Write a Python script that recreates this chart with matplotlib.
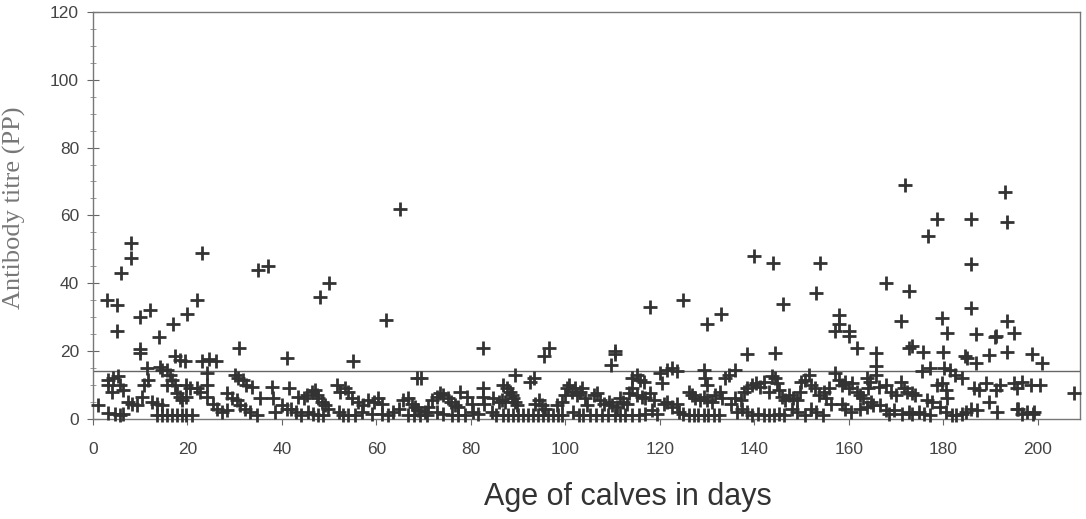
import matplotlib
matplotlib.use("Agg")
import matplotlib.pyplot as plt
from matplotlib.ticker import MultipleLocator

# age of calf (days) and antibody titre (PP)
# high values (outliers)
age_high = [3, 5, 5, 6, 8, 8, 10, 12, 10, 10, 14, 17, 20, 22, 23, 23, 24.5, 26,
            17.4, 18.4, 19.5, 31, 35, 37, 41, 48, 50, 55, 62, 65, 82.5,
            96.5, 95.5, 110.6, 110.6, 109.6, 118, 125, 130, 133, 138.5, 140,
            144, 144.3, 146, 153, 154, 157, 158, 158, 160, 160, 161.8,
            165.7, 165.7, 165.7, 168, 171, 172, 172.7, 172.7, 173.5, 175.8,
            176.7, 178.8, 179.8, 179.9, 180.9, 184.7, 185, 185.8, 185.8,
            185.8, 186.9, 186.9, 189.6, 190.9, 191.2, 193, 193.6, 193.6,
            193.6, 195, 198.9, 201]
titre_high = [35, 33.5, 26, 43, 47.5, 52, 30, 32, 19.5, 20.5, 24, 28, 31, 35,
              49, 17, 17.5, 17, 18.4, 17.4, 17, 21, 44, 45, 18, 36, 40, 17,
              29, 62, 21, 21, 18.5, 20, 19, 16, 33, 35, 28, 31, 19, 48, 46,
              19.5, 34, 37, 46, 26, 30.5, 28, 26, 24.5, 21, 19.5, 15.5, 13,
              40, 28.8, 69, 37.7, 21, 21.5, 19.6, 53.8, 59, 29.7, 19.6, 25.3,
              18.4, 17.8, 59, 45.7, 32.7, 25, 16.6, 18.7, 24, 24.5, 67, 58,
              28.8, 19.6, 25.3, 19, 16.6]

# dense band below the cut-off line
age_low = [
    1, 3.2, 3.2, 4.3, 5.4, 5.7, 6.4, 4, 3.2, 4.7, 5.7, 6.4, 7.5, 8.2, 9.3,
    10.3, 10.7, 11.7, 11.4, 12.4, 13.5, 14.6, 13.5, 14.6, 15.6, 16.7,
    14.2, 14.6, 15.6, 16.3, 16.7, 17.4, 15.6, 17.7, 18.4, 18.8, 19.8, 19.8,
    17.7, 18.8, 19.8, 20.9, 20.5, 22, 22.7, 24.1, 24.1, 24.1,
    25.5, 26.2, 27.3, 28.3, 28.3, 29.4, 30.4, 30.1, 30.8, 31.8, 32.5, 33.6,
    31.1, 32.2, 33.3, 34.7, 35.4, 37.8, 38.2, 38.6, 40, 41,
    41.4, 42, 43, 44, 43.5, 44.6, 45.3, 46.4, 47, 47.4, 47.7, 48.4, 49.1,
    49.8, 45.6, 46.6, 47.7, 48.8, 51.6, 52.3, 53.3, 54, 54.8, 52, 53, 54,
    55.5, 56.2, 57.2, 58.3, 59.4, 60.4, 61.1, 57, 59, 61.1, 62.5, 63.6, 64.7,
    65.7, 66.8, 67.5, 68.2, 68.9, 70.3, 71, 66.8, 67.9, 69.3, 70.7,
    68.5, 69.5, 71.7, 72.8, 73.5, 74.2, 75.2, 75.9, 76.6, 77.3, 77.7, 79.1,
    80.2, 72.8, 74.2, 76, 77.3, 78.7, 80.5, 81.6, 82.5, 82.5, 82.8,
    89.4, 92.6, 93.3, 86.9, 87.6, 88.3, 88.7, 89, 89.4, 89.8, 84.8, 85.9,
    86.6, 87.3, 84.4, 85.4, 86.9, 87.9, 89, 90, 91.1, 92.1, 93.1, 94.2, 95.2,
    96.3, 97.3, 98.4, 99.4, 93.6, 94.4, 95.1, 95.8, 98.2, 99.3, 100, 100.3,
    100.7, 101.4, 102.1, 102.4, 103.1, 103.5, 104.2, 104.5, 106, 106.7, 107.4,
    108.1, 109.2, 109.9, 110.9, 101.7, 102.8, 103.8, 105.2, 106.6, 107.7,
    109.1, 110.5, 111.5, 111.6, 112.3, 113, 113.4, 114.1, 115.2, 115.9,
    116.6, 114.1, 115.2, 116.2, 116.9, 118, 118.7, 112.7, 114.1, 115.5,
    116.9, 118.3, 119.4, 120.1, 120.5, 121.5, 122.5, 123.6, 120.8, 121.5,
    122.5, 123.6,
    129.3, 129.6, 129.9, 133.9, 134.6, 136, 126.1, 126.8, 127.5, 128.6,
    129.3, 130, 131, 131.7, 132.8, 133.2, 124, 125, 126.1, 127.2, 128.2,
    129.3, 130.3, 131.4, 132.5, 135, 136, 137.1, 137.8, 138.5, 139.5, 140.3,
    141.3, 142, 143.1, 143.8, 144.5, 144.8, 145.2, 145.9, 146.6, 136.4,
    137.4, 138.5, 139.5, 140.9, 142, 143.1, 144.1, 145.2, 146.2, 147.3,
    148.3, 149, 149.7, 150, 150.7, 151.7, 152.1, 152.8, 153.8, 154.8, 155.2,
    155.9, 156.2, 148, 149, 150.7, 152.1, 153.1, 154.5, 157.2, 157.9, 158.6,
    159.3, 160, 160.7, 161.8, 162.4, 163.1, 163.8, 164.1, 164.8, 165.2,
    158.6, 159.3, 160.4, 162.4, 163.8,
    175.6, 177.3, 180.1, 181.5, 182.6, 184, 164.6, 166.4, 167.8, 168.9, 170,
    171, 171.7, 172.4, 173.4, 174.1, 178.7, 179.8, 180.5, 180.9, 176.6,
    177.6, 186.5, 187.6, 189, 189.7, 191.1, 192.1, 194.9, 195.6, 196.7,
    198.5, 200.6, 207.6, 166.7, 167.8, 168.5, 169.5, 171.3, 172.7, 173.4,
    174.8, 175.9, 177.3, 179.3, 180.7, 181.8, 182.8, 183.9, 184.9, 186,
    187.1, 191.3, 195.6, 196.7, 197.8, 199.2, 195.8, 199]
titre_low = [
    4.1, 11.5, 10, 12, 12.5, 10, 8.5, 8, 1.8, 1.5, 1, 1.5, 5, 4.5, 4,
    6.5, 10, 11.5, 15, 5, 4.5, 4, 1, 1, 1, 1,
    15.4, 14.5, 14.5, 13, 11.5, 10, 10, 7.5, 6.5, 5.5, 10, 6.5,
    1, 1, 1, 1, 9, 9, 8, 13.5, 10, 6.5,
    4.5, 3, 2, 2.5, 7.5, 6, 5.5, 13, 12, 11.5, 10, 9.5,
    4, 3, 2, 1, 6, 9.5, 6, 2, 4, 3,
    9, 3, 2, 1, 6.5, 6, 7, 8, 8.5, 7, 6, 5, 4,
    3, 2, 1.3, 1, 1, 10, 8, 9, 8, 6, 2, 1, 1,
    1, 5, 4, 5.5, 5, 6, 4.5, 2, 1.5, 1.5, 1, 2, 3,
    5.5, 6, 4.5, 3.5, 2.5, 2, 3.5, 1, 1, 1, 1,
    12, 12, 5.5, 6.5, 7.5, 7, 6, 5, 4, 3.5, 8, 6.5,
    4.5, 2, 1.5, 1, 1, 1, 2, 1.5, 9, 6.5, 4.5,
    13, 11, 12, 10, 9, 8, 7, 6, 5, 4, 6, 5,
    5.5, 5, 2, 1, 1, 1, 1, 1, 1, 1, 1, 1, 1,
    1, 1, 1, 1, 4.5, 5.5, 4, 3, 4, 5, 7, 9,
    10, 8, 9, 7, 8, 9, 6, 4, 7, 7.5, 5.5,
    4.5, 5, 4, 3.5, 2, 1, 1, 1, 1, 1,
    1, 1, 1, 6, 5, 4.5, 7.5, 12, 13, 11.5,
    11, 9, 7, 6.5, 6, 7.5, 5.5, 1, 1, 1,
    1.5, 2.5, 1.5, 13.5, 10.5, 14.5, 15, 14, 4.5, 5,
    3.5, 4.5,
    14.5, 12, 10, 12, 13, 14.5, 8, 7, 6, 5.5,
    6.5, 5.5, 5, 7, 8, 6, 2, 1.5, 1, 1, 1,
    1, 1, 1, 1, 4.5, 6, 5.5, 8, 9, 10, 10.5,
    9.5, 11, 8, 12.5, 12, 10.5, 8.5, 6.5, 5.5, 2,
    3, 2, 1, 1.5, 1, 1, 1, 1.5, 1, 7,
    6, 5.5, 8, 11, 11.5, 13, 10, 9, 7, 8, 6,
    9, 4.5, 3, 2, 1, 3, 2, 1, 13.5, 11.5, 10,
    11, 9, 10.5, 8, 7, 6, 12, 9, 5, 4,
    4.5, 3, 2, 3, 3.5,
    14, 15, 15, 14.5, 13, 12, 11, 9.5, 10, 8, 7,
    11, 9, 8, 7.5, 7, 10, 10.5, 8.5, 6, 5.5,
    5, 9, 8.5, 10.5, 5, 8.5, 10, 10.5, 9, 11,
    10, 10, 7.5, 4, 2.5, 1.5, 2.5, 1.5, 2, 1.5,
    2, 1.5, 1, 3.5, 2, 1, 1, 1.5, 2, 3,
    2.5, 2, 3, 1.5, 2, 2, 3, 1.5]

cutoff = 14

fig = plt.figure(figsize=(10.86, 5.19), dpi=100)
ax = fig.add_axes([0.0856, 0.193, 0.909, 0.784])

ink = "#333333"
ax.scatter(age_high, titre_high, marker="+", s=115, linewidths=2.0,
           color=ink, clip_on=False, zorder=3)
ax.scatter(age_low, titre_low, marker="+", s=115, linewidths=2.0,
           color=ink, clip_on=False, zorder=3)

ax.axhline(cutoff, color="#666666", lw=1.0, zorder=2)

ax.set_xlim(0, 209)
ax.set_ylim(0, 120)
ax.yaxis.set_major_locator(MultipleLocator(20))
ax.yaxis.set_minor_locator(MultipleLocator(5))
ax.set_xticks(range(0, 201, 20))

for sp in ax.spines.values():
    sp.set_color("#777777")
    sp.set_linewidth(1.0)

ax.tick_params(axis="y", which="major", direction="inout", length=8,
               color="#666666", labelsize=12.5, labelcolor="#444444", pad=6)
ax.tick_params(axis="y", which="minor", direction="inout", length=4,
               color="#888888")
ax.tick_params(axis="x", which="major", direction="out", length=4,
               color="#666666", labelsize=12.5, labelcolor="#444444", pad=13)
for lab in ax.get_xticklabels() + ax.get_yticklabels():
    lab.set_family("Liberation Sans")

fig.text(0.578, 0.042, "Age of calves in days", ha="center", va="center",
         fontsize=22, color="#333333", family="Liberation Sans")
fig.text(0.013, 0.6, "Antibody titre (PP)", ha="center", va="center",
         rotation=90, fontsize=19, color="#777777", family="Liberation Serif")

fig.savefig("out.png", dpi=100)
